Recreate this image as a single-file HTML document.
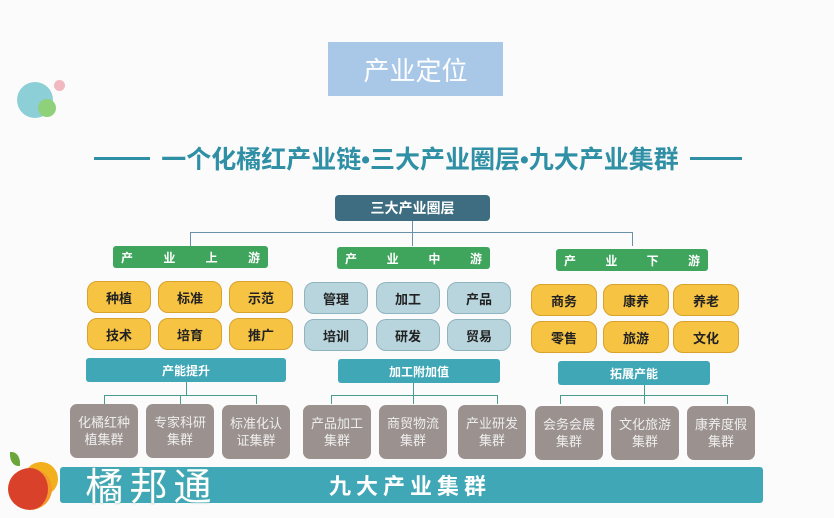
<!DOCTYPE html><html><head><meta charset="utf-8"><style>
body{margin:0;width:834px;height:518px;background:#fbfbfb;position:relative;overflow:hidden;font-family:"Liberation Sans","Noto Sans CJK SC",sans-serif}
.a{position:absolute;box-sizing:border-box;display:flex;align-items:center;justify-content:center;text-align:center}
.y{background:#f6c343;border:1px solid #d9a22a;border-radius:10px;font-weight:bold;font-size:13px;color:#222;width:64px;height:32px}
.b{background:#b8d5de;border:1px solid #8fb3bf;border-radius:10px;font-weight:bold;font-size:13px;color:#222;width:64px;height:32px}
.g{background:#3fa45c;color:#fff;font-weight:bold;font-size:12px;height:22px;border-radius:3px;justify-content:space-between;padding:0 8px}
.t{background:#3fa7b6;color:#fff;font-weight:bold;font-size:12px;height:24px;border-radius:3px}
.r{background:#9b918e;color:#eee;font-size:13px;line-height:17px;border-radius:7px;width:68px;height:54px}
.l{position:absolute;background:#4a9c8e}
</style></head><body>
<div class="a" style="left:328px;top:42px;width:175px;height:54px;background:#a9c8e8;color:#fff;font-size:26px">产业定位</div>
<div style="position:absolute;left:17px;top:82px;width:36px;height:36px;border-radius:50%;background:#8ccfd6"></div>
<div style="position:absolute;left:38px;top:99px;width:18px;height:18px;border-radius:50%;background:#8fd07a"></div>
<div style="position:absolute;left:54px;top:80px;width:11px;height:11px;border-radius:50%;background:#f2b8c0"></div>
<div style="position:absolute;left:94px;top:157px;width:56px;height:3px;background:#2e8fa5"></div>
<div style="position:absolute;left:690px;top:157px;width:52px;height:3px;background:#2e8fa5"></div>
<div class="a" style="left:150px;top:142px;width:540px;height:32px;color:#2e8fa5;font-size:25px;font-weight:bold;white-space:nowrap">一个化橘红产业链•三大产业圈层•九大产业集群</div>
<div class="a" style="left:335px;top:195px;width:155px;height:26px;background:#3e6c80;border-radius:4px;color:#fff;font-weight:bold;font-size:14px">三大产业圈层</div>
<div style="position:absolute;left:190px;top:232px;width:442px;height:1px;background:#6a8fa8"></div>
<div style="position:absolute;left:412px;top:221px;width:1px;height:25px;background:#6a8fa8"></div>
<div style="position:absolute;left:190px;top:232px;width:1px;height:14px;background:#6a8fa8"></div>
<div style="position:absolute;left:632px;top:232px;width:1px;height:14px;background:#6a8fa8"></div>
<div class="a g" style="left:113px;top:246px;width:155px"><span>产</span><span>业</span><span>上</span><span>游</span></div>
<div class="a g" style="left:337px;top:247px;width:153px"><span>产</span><span>业</span><span>中</span><span>游</span></div>
<div class="a g" style="left:556px;top:249px;width:152px"><span>产</span><span>业</span><span>下</span><span>游</span></div>
<div class="a y" style="left:87px;top:281px">种植</div><div class="a y" style="left:158px;top:281px">标准</div><div class="a y" style="left:229px;top:281px">示范</div>
<div class="a y" style="left:87px;top:318px">技术</div><div class="a y" style="left:158px;top:318px">培育</div><div class="a y" style="left:229px;top:318px">推广</div>
<div class="a b" style="left:304px;top:282px">管理</div><div class="a b" style="left:376px;top:282px">加工</div><div class="a b" style="left:447px;top:282px">产品</div>
<div class="a b" style="left:304px;top:319px">培训</div><div class="a b" style="left:376px;top:319px">研发</div><div class="a b" style="left:447px;top:319px">贸易</div>
<div class="a y" style="left:531px;top:284px;width:66px">商务</div><div class="a y" style="left:603px;top:284px;width:66px">康养</div><div class="a y" style="left:673px;top:284px;width:66px">养老</div>
<div class="a y" style="left:531px;top:321px;width:66px">零售</div><div class="a y" style="left:603px;top:321px;width:66px">旅游</div><div class="a y" style="left:673px;top:321px;width:66px">文化</div>
<div class="a t" style="left:86px;top:358px;width:200px">产能提升</div>
<div class="a t" style="left:338px;top:359px;width:162px">加工附加值</div>
<div class="a t" style="left:558px;top:361px;width:152px">拓展产能</div>
<div class="l" style="left:186px;top:382px;width:1px;height:13px"></div>
<div class="l" style="left:104px;top:395px;width:153px;height:1px"></div>
<div class="l" style="left:104px;top:395px;width:1px;height:9px"></div><div class="l" style="left:180px;top:395px;width:1px;height:9px"></div><div class="l" style="left:256px;top:395px;width:1px;height:9px"></div>
<div class="l" style="left:413px;top:383px;width:1px;height:21px"></div>
<div class="l" style="left:331px;top:395px;width:167px;height:1px"></div>
<div class="l" style="left:331px;top:395px;width:1px;height:9px"></div><div class="l" style="left:497px;top:395px;width:1px;height:9px"></div>
<div class="l" style="left:644px;top:385px;width:1px;height:19px"></div>
<div class="l" style="left:560px;top:395px;width:168px;height:1px"></div>
<div class="l" style="left:560px;top:395px;width:1px;height:9px"></div><div class="l" style="left:727px;top:395px;width:1px;height:9px"></div>
<div class="a r" style="left:70px;top:404px">化橘红种<br>植集群</div>
<div class="a r" style="left:146px;top:404px">专家科研<br>集群</div>
<div class="a r" style="left:222px;top:405px">标准化认<br>证集群</div>
<div class="a r" style="left:303px;top:405px">产品加工<br>集群</div>
<div class="a r" style="left:379px;top:405px">商贸物流<br>集群</div>
<div class="a r" style="left:458px;top:405px">产业研发<br>集群</div>
<div class="a r" style="left:535px;top:406px">会务会展<br>集群</div>
<div class="a r" style="left:611px;top:406px">文化旅游<br>集群</div>
<div class="a r" style="left:687px;top:406px">康养度假<br>集群</div>
<div style="position:absolute;left:60px;top:467px;width:703px;height:36px;background:#3fa7b6;border-radius:3px"></div>
<div class="a" style="left:300px;top:467px;width:220px;height:36px;color:#fff;font-weight:bold;font-size:22px;letter-spacing:5px">九大产业集群</div>
<div style="position:absolute;left:24px;top:462px;width:34px;height:34px;border-radius:50%;background:#f2b01e"></div>
<div style="position:absolute;left:8px;top:468px;width:40px;height:42px;border-radius:50%;background:#d9412a;border-right:4px solid #f39a2a"></div>
<div style="position:absolute;left:10px;top:452px;width:10px;height:14px;background:#6aa63a;border-radius:0 80% 0 80%"></div>
<div class="a" style="left:64px;top:458px;width:175px;height:50px;color:#fff;font-size:38px;letter-spacing:6px;text-shadow:0 0 2px #5aa">橘邦通</div>
</body></html>
